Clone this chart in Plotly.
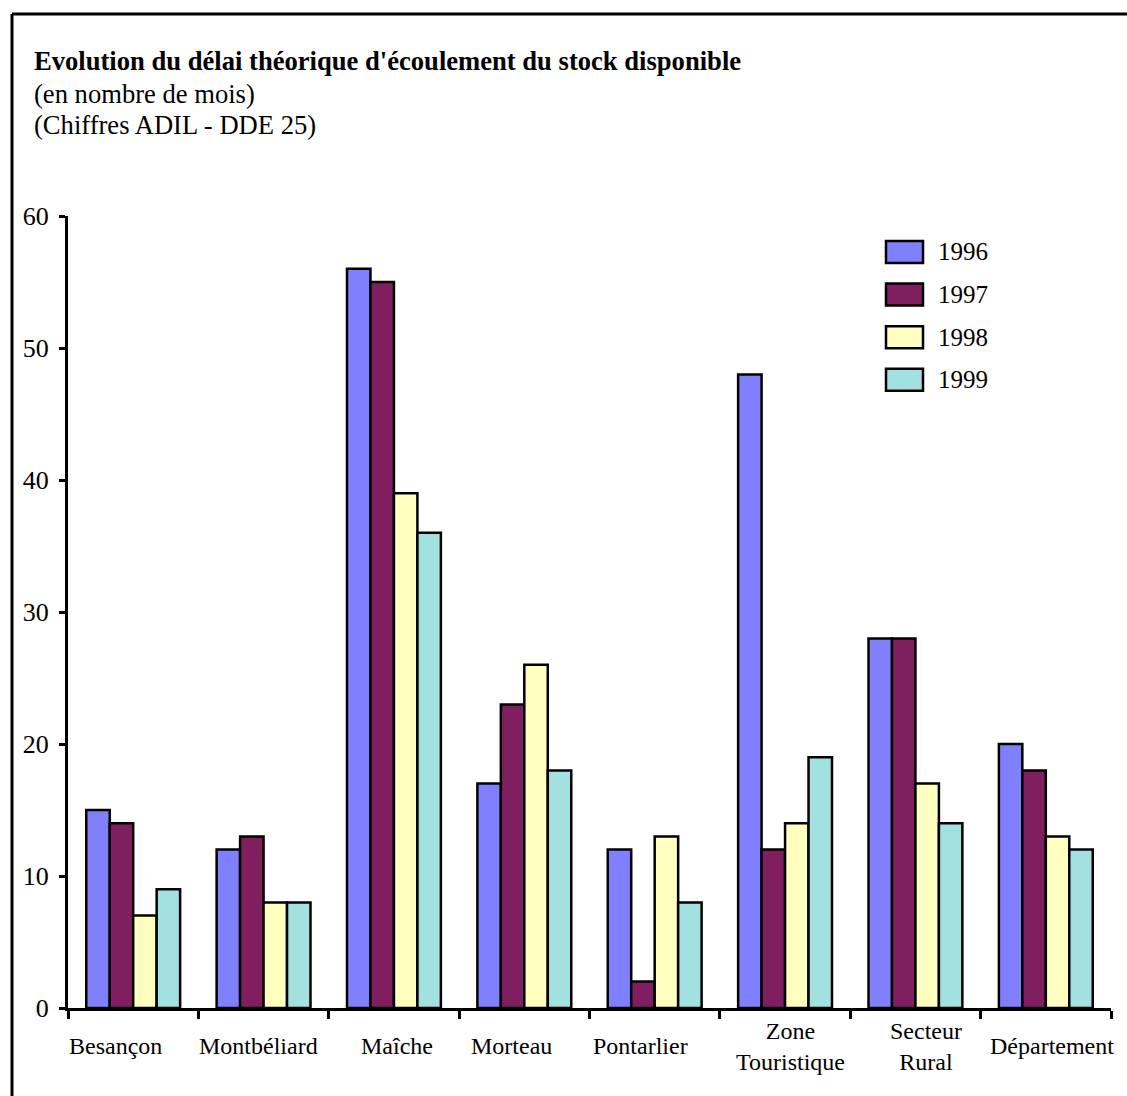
import plotly.graph_objects as go

categories = ["Besançon", "Montbéliard", "Maîche", "Morteau", "Pontarlier",
              "Zone<br>Touristique", "Secteur<br>Rural", "Département"]
years = ["1996", "1997", "1998", "1999"]
v1996 = [15, 12, 56, 17, 12, 48, 28, 20]
v1997 = [14, 13, 55, 23, 2, 12, 28, 18]
v1998 = [7, 8, 39, 26, 13, 14, 17, 13]
v1999 = [9, 8, 36, 18, 8, 19, 14, 12]
series = [v1996, v1997, v1998, v1999]
colors = ["#8080FF", "#7F1F5F", "#FFFFC0", "#A3E0E0"]
yticks = [0, 10, 20, 30, 40, 50, 60]
label_shift = [-18, -5, 3, -13, -14, 5, 11, 6]

W, H = 1127, 1096
L, R, T, B = 68, 1111, 216, 1008


def px(x):
    return (x - L) / (R - L)


def py(y):
    return (B - y) / (B - T)


FONT = "Liberation Serif"

fig = go.Figure()
for name, vals, col in zip(years, series, colors):
    fig.add_trace(go.Bar(
        x=list(range(len(categories))), y=vals, name=name,
        marker=dict(color=col, line=dict(color="black", width=2.5)),
        showlegend=False,
    ))

shapes = [
    dict(type="line", xref="paper", yref="paper", x0=px(12), x1=px(1140),
         y0=py(14), y1=py(14), line=dict(color="black", width=3)),
    dict(type="line", xref="paper", yref="paper", x0=px(12), x1=px(12),
         y0=py(14), y1=py(1110), line=dict(color="black", width=3)),
]
annotations = [
    dict(text="<b>Evolution du délai théorique d'écoulement du stock disponible</b>",
         xref="paper", yref="paper", x=px(32), y=py(61), xanchor="left", yanchor="middle",
         showarrow=False, font=dict(size=26.6, color="black", family=FONT)),
    dict(text="(en nombre de mois)",
         xref="paper", yref="paper", x=px(32), y=py(94), xanchor="left", yanchor="middle",
         showarrow=False, font=dict(size=26.6, color="black", family=FONT)),
    dict(text="(Chiffres ADIL - DDE 25)",
         xref="paper", yref="paper", x=px(32), y=py(125), xanchor="left", yanchor="middle",
         showarrow=False, font=dict(size=26.6, color="black", family=FONT)),
]

# category labels
for i, (c, sh) in enumerate(zip(categories, label_shift)):
    annotations.append(dict(text=c, xref="x", yref="paper", x=i, y=py(1046),
                            xanchor="center", yanchor="middle", showarrow=False,
                            xshift=sh,
                            font=dict(size=24, color="black", family=FONT)))

# manual legend
for k, (name, col) in enumerate(zip(years, colors)):
    cy = 252 + k * 42.6
    shapes.append(dict(type="rect", xref="paper", yref="paper",
                       x0=px(886), x1=px(923), y0=py(cy - 11), y1=py(cy + 11),
                       fillcolor=col, line=dict(color="black", width=2.5)))
    annotations.append(dict(text=name, xref="paper", yref="paper", x=px(936), y=py(cy),
                            xanchor="left", yanchor="middle", showarrow=False,
                            font=dict(size=25, color="black", family=FONT)))

fig.update_layout(
    width=W, height=H,
    margin=dict(l=L, r=W - R, t=T, b=H - B, pad=0),
    paper_bgcolor="white", plot_bgcolor="white",
    barmode="group", bargap=0.28, bargroupgap=0,
    font=dict(family=FONT, color="black"),
    shapes=shapes, annotations=annotations,
    xaxis=dict(range=[-0.5, len(categories) - 0.5], tickmode="array",
               tickvals=[i - 0.5 for i in range(len(categories) + 1)],
               ticktext=[""] * (len(categories) + 1),
               ticks="outside", ticklen=8, tickwidth=3, tickcolor="black",
               showline=True, linecolor="black", linewidth=3,
               showgrid=False, zeroline=False, fixedrange=True),
    yaxis=dict(range=[0, 60], tickvals=yticks, ticks="outside", ticklen=6,
               tickwidth=3, tickcolor="black", showline=True, linecolor="black",
               linewidth=3, showgrid=False, zeroline=False,
               tickfont=dict(size=26, color="black", family=FONT),
               ticklabelstandoff=5),
)

fig.write_html("out.html")
